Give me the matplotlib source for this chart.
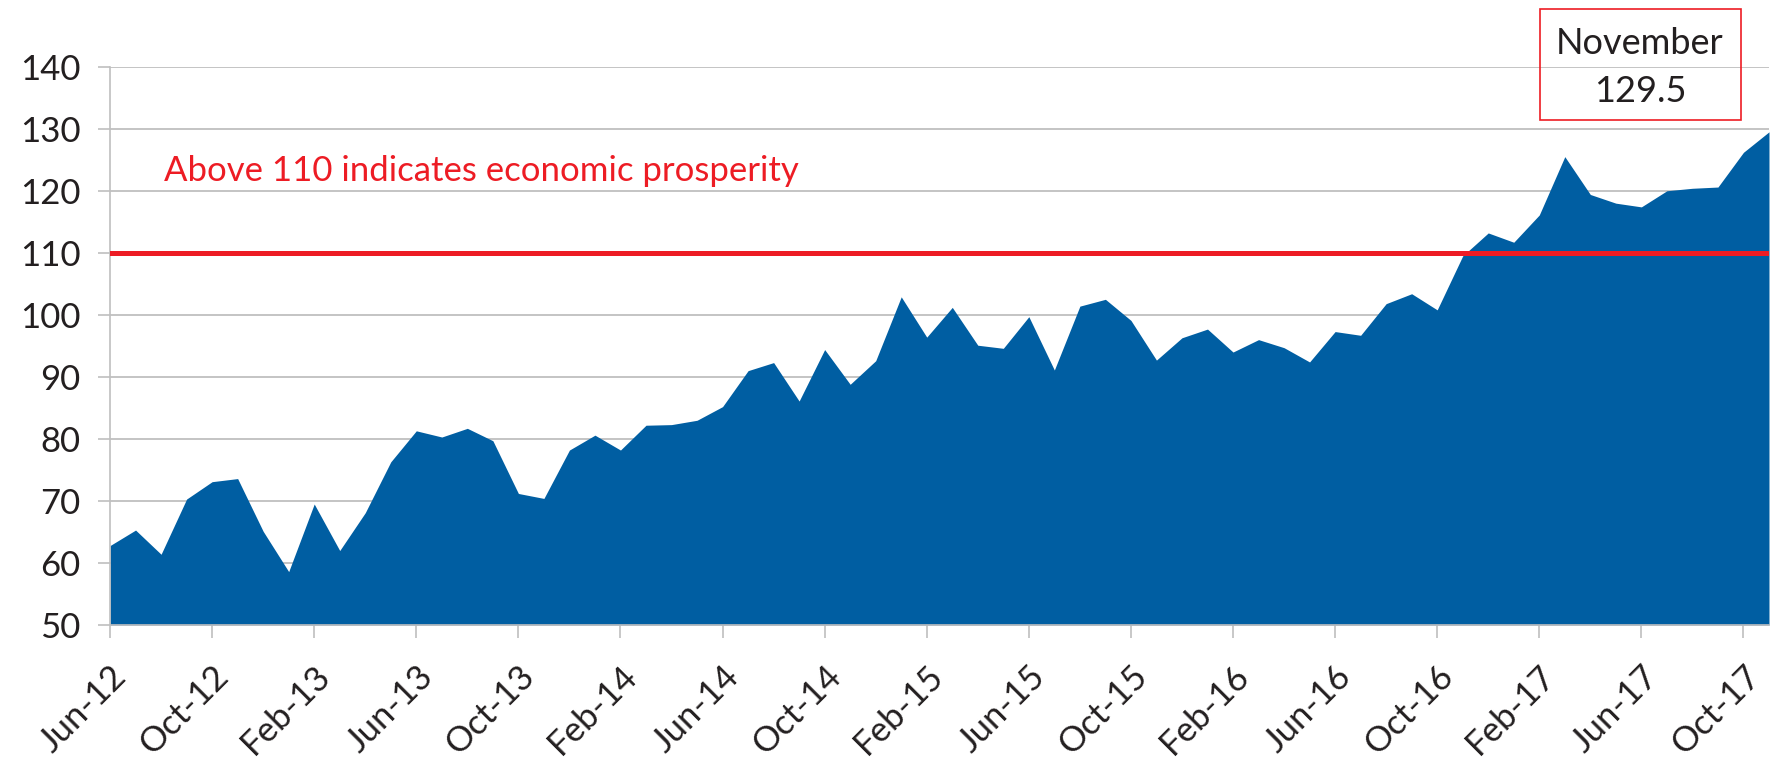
import numpy as np
import matplotlib.pyplot as plt
from matplotlib.patches import Rectangle

plt.rcParams['font.family'] = ['Lato', 'DejaVu Sans']

# monthly index, Jun-12 .. Nov-17
values = [62.8, 65.3, 61.4, 70.3, 73.1, 73.6, 65.1,                                 # 2012 Jun-Dec
          58.6, 69.5, 62.0, 68.1, 76.3, 81.3, 80.3, 81.7, 79.7, 71.2, 70.4, 78.2,    # 2013
          80.6, 78.2, 82.2, 82.3, 83.0, 85.2, 91.0, 92.3, 86.1, 94.4, 88.8, 92.6,    # 2014
          102.9, 96.4, 101.2, 95.1, 94.6, 99.7, 91.1, 101.4, 102.5, 99.1, 92.7, 96.3, # 2015
          97.7, 94.0, 96.0, 94.7, 92.4, 97.3, 96.7, 101.8, 103.4, 100.8, 109.5, 113.2, # 2016
          111.7, 116.1, 125.5, 119.4, 118.0, 117.4, 120.0, 120.4, 120.6, 126.2, 129.5]  # 2017 Jan-Nov
tick_labels = ['Jun-12', 'Oct-12', 'Feb-13', 'Jun-13', 'Oct-13', 'Feb-14', 'Jun-14',
               'Oct-14', 'Feb-15', 'Jun-15', 'Oct-15', 'Feb-16', 'Jun-16', 'Oct-16',
               'Feb-17', 'Jun-17', 'Oct-17']
threshold = 110
note = 'Above 110 indicates economic prosperity'
callout = ['November', '129.5']

x = np.arange(len(values))
blue = '#005EA2'
red = '#ED1C24'
grey = '#BFBFBF'
dark = '#231F20'

fig = plt.figure(figsize=(17.72, 7.58), dpi=100)
ax = fig.add_axes([0.0621, 0.1755, 0.9362, 0.7365])

ax.fill_between(x, values, 50, color=blue, lw=0, zorder=2)
ax.axhline(threshold, color=red, lw=3.6, zorder=3)
ax.text(2.1, 121.6, note, color=red, fontsize=25, va='baseline')

ax.set_xlim(0, len(values) - 1)
ax.set_ylim(50, 140)
ax.set_yticks(range(50, 141, 10))
ax.set_xticks(x[::4])
ax.set_xticklabels(tick_labels, rotation=45, ha='right', va='top', rotation_mode='anchor')
ax.yaxis.grid(True, color=grey, lw=1.3, zorder=1)
ax.set_axisbelow(True)
for s in ['top', 'right']:
    ax.spines[s].set_visible(False)
for s in ['left', 'bottom']:
    ax.spines[s].set_color(grey)
    ax.spines[s].set_linewidth(1.2)
ax.tick_params(axis='both', colors=grey, width=1.2, length=9, labelsize=25, labelcolor=dark)
ax.tick_params(axis='y', pad=12)
ax.tick_params(axis='x', pad=16)

# callout box
fig.patches.append(Rectangle((1540 / 1772, 1 - 120 / 758), 201 / 1772, 111 / 758,
                             transform=fig.transFigure, fill=False, edgecolor=red, lw=1.2))
fig.text(1640 / 1772, 1 - 44 / 758, callout[0], ha='center', va='center', fontsize=26, color=dark)
fig.text(1640 / 1772, 1 - 91 / 758, callout[1], ha='center', va='center', fontsize=26, color=dark)

fig.savefig('out.png', dpi=100)
